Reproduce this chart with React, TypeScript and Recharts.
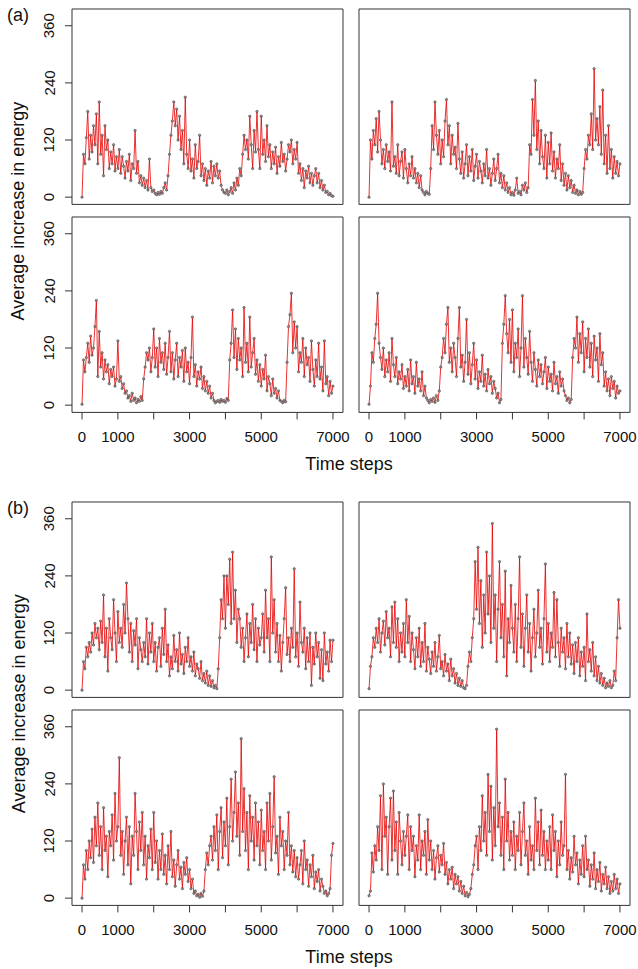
import React from 'react';
import { LineChart, Line, XAxis, YAxis, ReferenceArea } from 'recharts';

// ---- time grid (uniform sampling of the run) ----
const STEP = 40;
const timeSteps: number[] = Array.from({ length: 176 }, (_, i) => i * STEP);

// ---- tick labels ----
const xTicks = [0, 1000, 2000, 3000, 4000, 5000, 6000, 7000];
const xLabelled = [0, 1000, 3000, 5000, 7000];
const yTicks = [0, 120, 240, 360];

// ---- series values: (a) ----
const a1 = [
  0, 90, 70, 125, 180, 80, 130, 95, 150, 110, 175, 70, 200, 90, 130, 45, 150, 100, 120, 60, 95, 70, 110, 55, 85,
  60, 100, 50, 85, 65, 40, 75, 55, 90, 35, 70, 60, 140, 50, 75, 30, 45, 25, 40, 20, 35, 15, 80, 20, 12,
  15, 8, 5, 10, 6, 12, 8, 20, 30, 15, 45, 90, 130, 160, 200, 150, 185, 120, 170, 100, 140, 70, 210, 90, 60,
  120, 55, 80, 40, 110, 60, 75, 130, 45, 70, 35, 60, 25, 55, 40, 75, 30, 65, 45, 70, 40, 55, 25, 15, 10,
  8, 15, 5, 12, 20, 8, 30, 15, 40, 25, 60, 45, 90, 130, 100, 120, 80, 170, 110, 60, 140, 95, 180, 100, 60,
  170, 90, 120, 75, 150, 85, 110, 60, 95, 70, 105, 50, 85, 65, 115, 75, 90, 55, 80, 110, 95, 120, 70, 100, 80,
  115, 50, 70, 35, 60, 20, 55, 40, 65, 30, 50, 25, 45, 60, 30, 50, 20, 35, 15, 25, 10, 12, 5, 8, 3, 2,
];
const a2 = [
  0, 120, 80, 140, 110, 165, 95, 180, 120, 70, 100, 60, 110, 75, 95, 55, 200, 65, 85, 50, 110, 45, 75, 95, 40,
  100, 60, 30, 70, 45, 85, 40, 60, 30, 50, 20, 45, 15, 10, 5, 12, 8, 6, 60, 150, 100, 200, 130, 90, 140,
  70, 120, 85, 160, 205, 110, 150, 70, 130, 90, 105, 60, 155, 80, 50, 95, 40, 70, 110, 45, 85, 55, 100, 35, 65,
  90, 40, 75, 55, 30, 70, 45, 100, 40, 60, 25, 50, 80, 35, 60, 90, 30, 50, 20, 45, 15, 30, 10, 20, 5,
  10, 4, 15, 40, 8, 12, 5, 25, 15, 30, 10, 20, 110, 90, 205, 130, 245, 100, 160, 70, 140, 85, 60, 130, 40,
  115, 70, 135, 55, 95, 40, 80, 60, 110, 35, 70, 25, 50, 15, 45, 20, 35, 10, 25, 8, 15, 5, 12, 6, 10,
  60, 100, 80, 130, 110, 175, 100, 270, 120, 165, 110, 190, 90, 225, 70, 130, 50, 150, 60, 100, 40, 85, 50, 75, 45, 70,
];
const a3 = [
  2, 95, 70, 100, 130, 90, 145, 105, 120, 165, 220, 60, 155, 80, 110, 55, 95, 70, 85, 45, 75, 60, 80, 40, 55,
  135, 50, 60, 35, 45, 25, 30, 15, 20, 8, 25, 10, 15, 5, 12, 8, 18, 10, 55, 80, 110, 95, 120, 70, 100,
  160, 80, 120, 60, 140, 90, 110, 75, 130, 65, 100, 155, 70, 110, 55, 95, 130, 60, 100, 80, 115, 50, 120, 70, 90,
  45, 100, 185, 60, 85, 40, 70, 55, 80, 35, 60, 30, 50, 25, 40, 15, 25, 10, 5, 8, 10, 6, 12, 8, 10,
  6, 14, 10, 95, 130, 200, 100, 160, 75, 140, 95, 120, 60, 205, 90, 130, 70, 185, 80, 110, 140, 65, 95, 50, 85,
  40, 75, 55, 105, 30, 60, 45, 20, 55, 25, 35, 15, 30, 10, 8, 5, 10, 7, 90, 165, 190, 235, 110, 175, 120,
  165, 70, 110, 90, 140, 60, 120, 85, 100, 50, 135, 75, 40, 95, 60, 130, 55, 80, 30, 135, 45, 60, 20, 50, 25, 40,
];
const a4 = [
  2, 40, 110, 90, 140, 170, 235, 130, 100, 75, 120, 60, 95, 70, 110, 50, 140, 85, 60, 100, 45, 70, 55, 85, 35,
  60, 40, 75, 30, 95, 45, 60, 25, 90, 40, 55, 30, 70, 20, 40, 15, 10, 5, 12, 8, 15, 6, 20, 10, 30,
  80, 100, 140, 110, 170, 205, 90, 120, 70, 130, 100, 60, 140, 205, 80, 105, 50, 90, 180, 65, 110, 45, 85, 130, 55,
  95, 35, 70, 50, 105, 40, 65, 30, 75, 45, 60, 25, 50, 35, 15, 25, 5, 12, 130, 170, 230, 150, 110, 180, 90,
  200, 70, 130, 100, 160, 60, 120, 230, 80, 140, 100, 65, 155, 90, 50, 110, 75, 40, 95, 60, 85, 45, 70, 100, 35,
  80, 50, 65, 30, 90, 45, 60, 25, 70, 40, 55, 30, 20, 10, 15, 5, 12, 100, 140, 120, 185, 90, 150, 110, 175,
  70, 140, 100, 160, 80, 130, 60, 145, 95, 120, 50, 150, 85, 110, 40, 70, 30, 55, 20, 60, 35, 50, 15, 40, 25, 30,
];

// ---- series values: (b) ----
const b1 = [
  0, 60, 45, 90, 70, 100, 80, 120, 95, 140, 110, 130, 85, 145, 100, 200, 70, 130, 40, 150, 110, 85, 190, 120, 60,
  165, 100, 130, 90, 180, 120, 225, 150, 80, 140, 60, 125, 95, 150, 45, 110, 85, 60, 100, 70, 150, 55, 120, 80, 140,
  60, 100, 40, 90, 110, 50, 130, 75, 170, 60, 95, 30, 70, 45, 115, 60, 85, 40, 120, 55, 75, 35, 90, 60, 110,
  50, 70, 40, 80, 30, 55, 45, 25, 60, 20, 35, 15, 40, 10, 30, 8, 20, 5, 10, 3, 45, 110, 190, 150, 240,
  130, 240, 180, 275, 140, 290, 150, 210, 100, 170, 150, 90, 130, 60, 110, 160, 70, 140, 100, 180, 85, 150, 60, 130, 95,
  110, 160, 80, 210, 110, 150, 60, 280, 120, 190, 80, 140, 60, 115, 40, 100, 150, 215, 75, 110, 60, 130, 90, 255, 70,
  120, 50, 185, 100, 80, 130, 45, 110, 60, 120, 10, 90, 55, 120, 70, 100, 25, 85, 20, 120, 55, 80, 40, 105, 60, 105,
];
const b2 = [
  3, 50, 70, 110, 90, 130, 100, 150, 80, 120, 145, 95, 165, 110, 130, 70, 175, 100, 185, 90, 150, 60, 120, 80, 140,
  70, 190, 100, 155, 60, 120, 85, 45, 110, 70, 130, 50, 100, 60, 140, 40, 90, 65, 35, 80, 50, 100, 40, 70, 115,
  45, 60, 30, 75, 40, 55, 20, 65, 30, 45, 15, 35, 10, 25, 8, 20, 5, 3, 10, 50, 80, 60, 110, 150, 270,
  170, 300, 140, 230, 90, 200, 120, 290, 160, 240, 100, 350, 130, 200, 60, 170, 270, 110, 180, 70, 250, 30, 150, 100, 220,
  130, 80, 180, 60, 150, 280, 90, 160, 50, 130, 200, 80, 140, 40, 110, 170, 70, 120, 210, 90, 130, 55, 150, 265, 80,
  140, 60, 120, 90, 205, 70, 190, 100, 50, 130, 80, 110, 45, 140, 70, 120, 55, 95, 35, 100, 60, 110, 30, 80, 50,
  90, 20, 160, 60, 85, 40, 100, 30, 70, 20, 50, 15, 35, 10, 25, 5, 15, 8, 20, 5, 10, 40, 20, 110, 190, 130,
];
const b3 = [
  0, 70, 40, 100, 60, 120, 85, 145, 75, 170, 110, 200, 90, 150, 60, 190, 100, 130, 45, 140, 110, 175, 80, 220, 120,
  150, 295, 90, 140, 50, 120, 170, 70, 150, 30, 130, 90, 220, 140, 60, 160, 100, 180, 70, 130, 40, 110, 85, 145, 60,
  180, 75, 120, 40, 100, 60, 135, 50, 90, 30, 110, 60, 140, 45, 80, 25, 70, 100, 40, 65, 20, 75, 50, 85, 35,
  60, 20, 40, 10, 15, 5, 8, 2, 10, 4, 15, 60, 95, 70, 110, 130, 80, 150, 100, 175, 60, 140, 190, 85, 160,
  110, 210, 70, 150, 250, 120, 180, 265, 130, 200, 90, 335, 140, 230, 100, 180, 60, 215, 120, 170, 80, 200, 110, 160, 70,
  185, 100, 140, 60, 200, 120, 220, 80, 150, 255, 95, 130, 50, 170, 110, 140, 60, 120, 90, 180, 70, 110, 55, 100, 45,
  85, 40, 70, 100, 30, 120, 60, 80, 25, 70, 45, 90, 20, 55, 35, 60, 15, 40, 25, 10, 15, 5, 10, 20, 90, 115,
];
const b4 = [
  5, 15, 95, 55, 110, 80, 150, 100, 215, 60, 240, 130, 170, 50, 150, 210, 80, 225, 100, 160, 50, 180, 120, 70, 140,
  90, 130, 175, 60, 150, 100, 130, 45, 110, 80, 175, 60, 120, 90, 140, 50, 165, 80, 120, 60, 100, 40, 85, 110, 55,
  90, 70, 115, 50, 75, 30, 60, 40, 65, 20, 50, 30, 45, 15, 35, 10, 25, 5, 12, 3, 8, 20, 50, 70, 110,
  130, 60, 150, 100, 215, 120, 180, 90, 260, 140, 235, 80, 190, 110, 355, 150, 200, 90, 170, 60, 250, 120, 180, 80, 140,
  90, 160, 60, 130, 100, 180, 70, 140, 200, 90, 120, 50, 150, 80, 110, 60, 210, 100, 160, 70, 185, 90, 140, 60, 120,
  80, 150, 60, 175, 100, 140, 45, 120, 70, 160, 90, 110, 260, 60, 100, 40, 85, 55, 130, 70, 95, 30, 80, 50, 110,
  45, 130, 60, 80, 25, 70, 40, 95, 20, 60, 35, 75, 15, 50, 30, 65, 20, 45, 10, 35, 15, 50, 20, 40, 10, 30,
];

// ---- layout ----
const X_DOMAIN: [number, number] = [-280, 7280];
const Y_DOMAIN: [number, number] = [-15.2, 395.2];
const PANEL_W = 271;
const PANEL_H = 195.4;
const COL_X = [72.3, 358.7];
const ROW_Y = [9.3, 217.4];
const FIG_Y = [0, 492.7];
const PAD_L = 60;
const PAD_T = 4;
const PAD_R = 26;
const PAD_B = 50;
const FONT = '"Liberation Sans", Arial, Helvetica, sans-serif';
const INK = '#333';

const XTick = (props: any) => {
  const { x, payload } = props;
  if (!xLabelled.includes(payload.value)) return <g />;
  return (
    <text x={x} y={PAD_T + PANEL_H + 24} textAnchor="middle" dominantBaseline="central"
      fontSize={15} fontFamily={FONT} fill="#111">{payload.value}</text>
  );
};

const YTick = (props: any) => {
  const { y, payload } = props;
  const tx = PAD_L - 23;
  return (
    <text x={tx} y={y} transform={`rotate(-90, ${tx}, ${y})`} textAnchor="middle" dominantBaseline="central"
      fontSize={15} fontFamily={FONT} fill="#111">{payload.value}</text>
  );
};

function Panel({ values, left, top, showX, showY }: { values: number[]; left: number; top: number; showX: boolean; showY: boolean }) {
  const data = timeSteps.map((t, i) => ({ t, v: values[i] }));
  return (
    <div style={{ position: 'absolute', left: left - PAD_L, top: top - PAD_T }}>
      <LineChart width={PANEL_W + PAD_L + PAD_R} height={PANEL_H + PAD_T + PAD_B} data={data}
        margin={{ top: PAD_T, right: PAD_R, bottom: 0, left: 0 }}>
        <XAxis type="number" dataKey="t" domain={X_DOMAIN} ticks={xTicks} allowDataOverflow interval={0}
          height={PAD_B} axisLine={false} tickSize={7}
          tickLine={showX ? { stroke: INK, strokeWidth: 1 } : false} tick={showX ? XTick : false} />
        <YAxis type="number" domain={Y_DOMAIN} ticks={yTicks} allowDataOverflow interval={0}
          width={PAD_L} axisLine={false} tickSize={7}
          tickLine={showY ? { stroke: INK, strokeWidth: 1 } : false} tick={showY ? YTick : false} />
        <ReferenceArea x1={X_DOMAIN[0]} x2={X_DOMAIN[1]} y1={Y_DOMAIN[0]} y2={Y_DOMAIN[1]}
          fill="none" fillOpacity={0} stroke={INK} strokeWidth={1} strokeOpacity={1} ifOverflow="visible" />
        <Line type="linear" dataKey="v" stroke="#e50000" strokeWidth={0.9} strokeOpacity={0.9}
          dot={{ r: 1.2, fill: '#9a8a8a', stroke: '#444', strokeWidth: 0.6 }} activeDot={false}
          isAnimationActive={false} />
      </LineChart>
    </div>
  );
}

const figures = [
  { tag: '(a)', panels: [a1, a2, a3, a4] },
  { tag: '(b)', panels: [b1, b2, b3, b4] },
];

export default function App() {
  return (
    <div style={{ position: 'absolute', left: 0, top: 0, width: 638, height: 969, background: '#fff', fontFamily: FONT }}>
      {figures.map((fig, f) =>
        fig.panels.map((vals, p) => {
          const col = p % 2;
          const row = Math.floor(p / 2);
          return (
            <Panel key={`${f}-${p}`} values={vals} left={COL_X[col]} top={FIG_Y[f] + ROW_Y[row]}
              showX={row === 1} showY={col === 0} />
          );
        })
      )}
      <svg width={638} height={969} style={{ position: 'absolute', left: 0, top: 0, pointerEvents: 'none' }}>
        {figures.map((fig, f) => {
          const oy = FIG_Y[f];
          const cy = oy + (ROW_Y[0] + ROW_Y[1] + PANEL_H) / 2;
          return (
            <g key={fig.tag}>
              <text x={18} y={oy + 15} textAnchor="middle" dominantBaseline="central" fontSize={18} fontFamily={FONT} fill="#111">{fig.tag}</text>
              <text x={18.5} y={cy} transform={`rotate(-90, 18.5, ${cy})`} textAnchor="middle" dominantBaseline="central"
                fontSize={18} fontFamily={FONT} fill="#111">Average increase in energy</text>
              <text x={349} y={oy + 470} textAnchor="middle" fontSize={18} fontFamily={FONT} fill="#111">Time steps</text>
            </g>
          );
        })}
      </svg>
    </div>
  );
}
